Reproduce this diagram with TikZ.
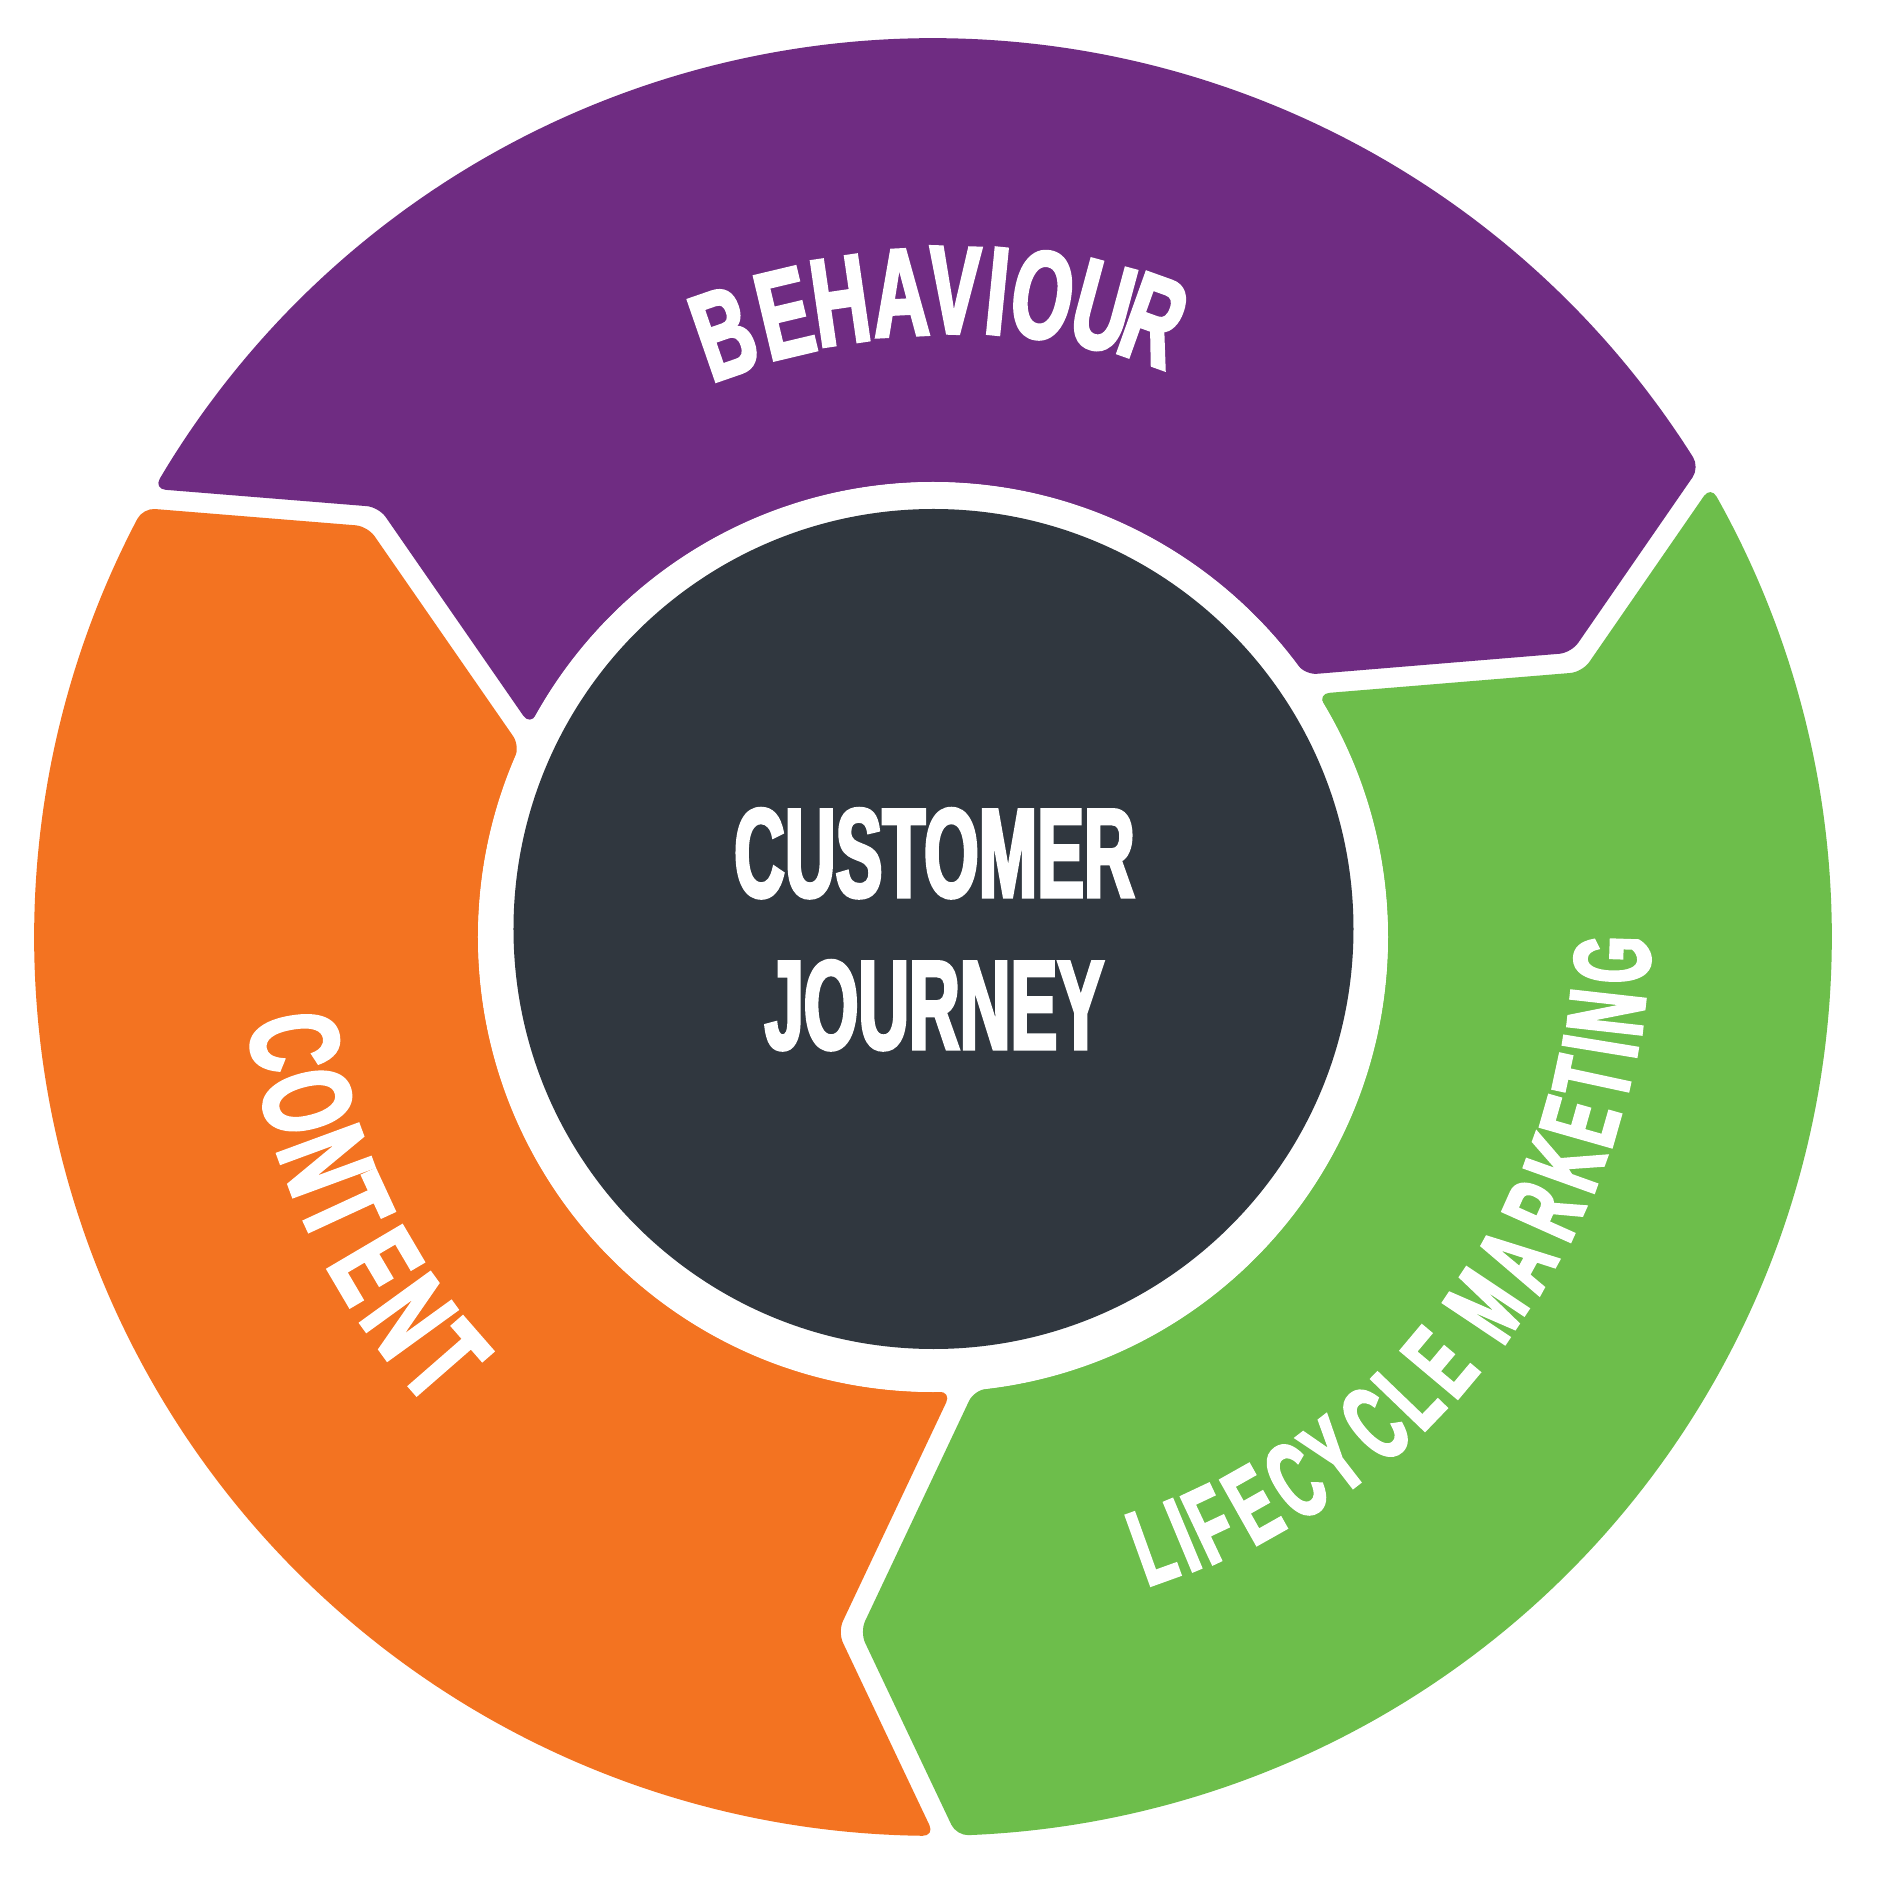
\documentclass[tikz,border=0pt]{standalone}
\usepackage{fontspec}
\newfontfamily\cjcenterfont[FakeStretch=0.553,FakeBold=2.5]{Liberation Sans}
\newfontfamily\cjcurvefont[FakeStretch=0.62,FakeBold=2.5]{Liberation Sans}
\newfontfamily\cjnarrowfont[FakeStretch=0.56,FakeBold=2.5]{Liberation Sans}
\definecolor{cjpurple}{HTML}{6F2C82}
\definecolor{cjorange}{HTML}{F37321}
\definecolor{cjgreen}{HTML}{6DBE4B}
\definecolor{cjdark}{HTML}{30373F}
% one ring segment: #1 colour, #2 angle of its clockwise boundary
\newcommand\cjseg[2]{%
  \fill[#1, segfill] (#2+4.39:455) -- (#2-6.80:698.75) -- (#2+0.70:899)
    \foreach \j in {1,...,59} { -- ({#2+0.70+\j*118.6/60}:899) }
    -- (#2+119.30:899) -- (#2+111.40:701.4) -- (#2+121.51:455)
    \foreach \j in {1,...,39} { -- ({#2+121.51-\j*117.12/40}:455) }
    -- cycle;
}
\begin{document}
\begin{tikzpicture}[x=1pt,y=1pt,
  segfill/.style={rounded corners=12pt},
  bigletter/.style={anchor=base, inner sep=0pt, outer sep=0pt, text=white,
    font={\cjcurvefont\bfseries\fontsize{125}{125}\selectfont}},
  smallletter/.style={bigletter,
    font={\cjnarrowfont\bfseries\fontsize{108}{108}\selectfont}},
  centertext/.style={anchor=base, inner sep=0pt, outer sep=0pt, text=white,
    font={\cjcenterfont\bfseries\fontsize{127}{127}\selectfont}}]

\useasboundingbox (-933,-952) rectangle (944,937);
\fill[white] (-933,-952) rectangle (944,937);

% the three arrow-shaped ring segments
\cjseg{cjpurple}{30.8}
\cjseg{cjgreen}{-89.2}
\cjseg{cjorange}{150.8}

\fill[white] (0,0) circle (455);
\fill[cjdark] (0.5,8) circle (420);

\node[centertext] (cust) at (1.5,40) {CUSTOMER};
\node[centertext] (journ) at (1.5,-112) {JOURNEY};

\foreach \cjch/\a/\r [count=\i] in {B/109.1/596, E/103.4/598, H/98.3/600,
    A/92.9/602, V/88.1/604, I/84.3/606, O/80.3/608, U/74.9/610, R/70.3/612} {
  \pgfmathsetmacro\rot{\a-90}
  \node[bigletter, rotate=\rot] (beh\i) at (\a:\r) {\cjch};
}

\foreach \cjch/\a [count=\i] in {C/189.3, O/194.7, N/200.2, T/204.8, E/210.5,
    N/215.9, T/221.1} {
  \pgfmathsetmacro\rot{\a+90}
  \node[bigletter, rotate=\rot] (con\i) at (\a:690) {\cjch};
}

\foreach \cjch/\a [count=\i] in {L/-70.2, I/-67.35, F/-64.74, E/-60.6, C/-56.3,
    Y/-52.3, C/-47.8, L/-43.9, E/-40.0, M/-33.7, A/-28.9, R/-24.1, K/-19.7,
    E/-15.9, T/-12.15, I/-9.3, N/-6.4, G/-1.9} {
  \pgfmathsetmacro\rot{\a+90}
  \pgfmathsetmacro\rr{684+(\a+70.2)*0.483}
  \node[smallletter, rotate=\rot] (lif\i) at (\a:\rr) {\cjch};
}
\end{tikzpicture}
\end{document}
